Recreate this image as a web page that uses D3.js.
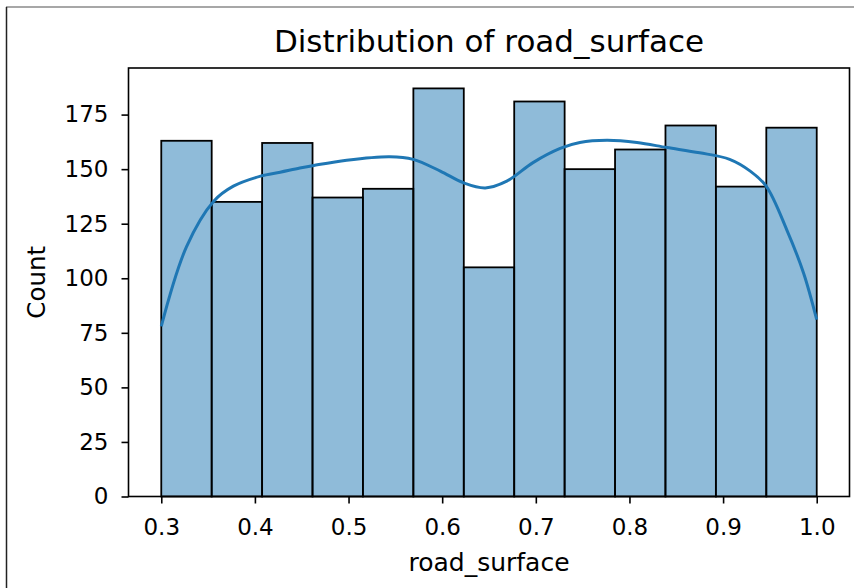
<!DOCTYPE html>
<html>
<head>
<meta charset="utf-8">
<script src="https://cdn.jsdelivr.net/npm/d3@7"></script>
<style>
  body { margin: 0; background: #fff; }
  text { font-family: "DejaVu Sans", sans-serif; fill: #000; }
</style>
</head>
<body>
<div id="chart"></div>
<script>
// histogram counts, 13 equal bins between 0.3 and 1.0
const binLo = 0.3
const binHi = 1.0
const counts = [163, 135, 162, 137, 141, 187, 105, 181, 150, 159, 170, 142, 169]

// kde curve (scaled to counts)
const kdeX = [0.300, 0.327, 0.356, 0.377, 0.406, 0.427, 0.448, 0.463, 0.498, 0.544, 0.569, 0.598,
              0.623, 0.646, 0.669, 0.697, 0.726, 0.747, 0.776, 0.808, 0.840, 0.875, 0.907, 0.929,
              0.946, 0.968, 0.986, 1.000]
const kdeY = [78, 114.5, 135.3, 142.2, 146.8, 148.6, 150.5, 151.7, 154.1, 155.7, 154.5, 149.1,
              143.7, 141.4, 144.5, 153, 159.5, 162.2, 163.2, 162.2, 159.9, 157.5, 154.5, 149.1,
              142.2, 122.2, 102.3, 81]

const xTicks = [0.3, 0.4, 0.5, 0.6, 0.7, 0.8, 0.9, 1.0]
const yTicks = [0, 25, 50, 75, 100, 125, 150, 175]

const width = 854, height = 588
const margin = {left: 128.5, right: 4.5, top: 68, bottom: 91.5}

var svg = d3.select("#chart").append("svg")
  .attr("width", width)
  .attr("height", height)

// frame of the screenshot
svg.append("line").attr("x1", 6).attr("x2", width).attr("y1", 7).attr("y2", 7)
  .attr("stroke", "#8a8a8a").attr("stroke-width", 1.5)
svg.append("line").attr("x1", 6.5).attr("x2", 6.5).attr("y1", 7).attr("y2", height)
  .attr("stroke", "#222").attr("stroke-width", 1.5)

var pad = (binHi - binLo) * 0.05
var x = d3.scaleLinear()
  .domain([binLo - pad, binHi + pad])
  .range([margin.left, width - margin.right])
var y = d3.scaleLinear()
  .domain([0, d3.max(counts) * 1.05])
  .range([height - margin.bottom, margin.top])

var bw = (binHi - binLo) / counts.length
var bins = counts.map((c, i) => ({x0: binLo + i * bw, x1: binLo + (i + 1) * bw, n: c}))

svg.append("g").selectAll("rect")
  .data(bins)
  .enter().append("rect")
    .attr("x", d => x(d.x0))
    .attr("width", d => x(d.x1) - x(d.x0))
    .attr("y", d => y(d.n))
    .attr("height", d => y(0) - y(d.n))
    .attr("fill", "rgba(31,119,180,0.5)")
    .attr("stroke", "#000")
    .attr("stroke-width", 1.8)

var line = d3.line()
  .x((d, i) => x(kdeX[i]))
  .y(d => y(d))
  .curve(d3.curveCatmullRom)

svg.append("path")
  .datum(kdeY)
  .attr("d", line)
  .attr("fill", "none")
  .attr("stroke", "#1f77b4")
  .attr("stroke-width", 3)

// axes
var xAxis = svg.append("g")
  .attr("transform", "translate(0," + y(0) + ")")
  .call(d3.axisBottom(x).tickValues(xTicks).tickFormat(d3.format(".1f")).tickSize(7).tickPadding(15))
var yAxis = svg.append("g")
  .attr("transform", "translate(" + margin.left + ",0)")
  .call(d3.axisLeft(y).tickValues(yTicks).tickSize(7).tickPadding(13))

;[xAxis, yAxis].forEach(a => {
  a.select(".domain").remove()
  a.selectAll("line").attr("stroke", "#000").attr("stroke-width", 1.6)
  a.selectAll("text").style("font-size", "23px").attr("fill", "#000")
})

// spines
svg.append("rect")
  .attr("x", margin.left).attr("y", margin.top)
  .attr("width", width - margin.right - margin.left)
  .attr("height", height - margin.bottom - margin.top)
  .attr("fill", "none").attr("stroke", "#000").attr("stroke-width", 1.6)

svg.append("text")
  .attr("x", (margin.left + width - margin.right) / 2)
  .attr("y", 52)
  .attr("text-anchor", "middle")
  .style("font-size", "31px")
  .text("Distribution of road_surface")

svg.append("text")
  .attr("x", (margin.left + width - margin.right) / 2)
  .attr("y", 571)
  .attr("text-anchor", "middle")
  .style("font-size", "25px")
  .text("road_surface")

svg.append("text")
  .attr("transform", "translate(45," + (margin.top + (height - margin.bottom - margin.top) / 2) + ") rotate(-90)")
  .attr("text-anchor", "middle")
  .style("font-size", "24.5px")
  .text("Count")
</script>
</body>
</html>
